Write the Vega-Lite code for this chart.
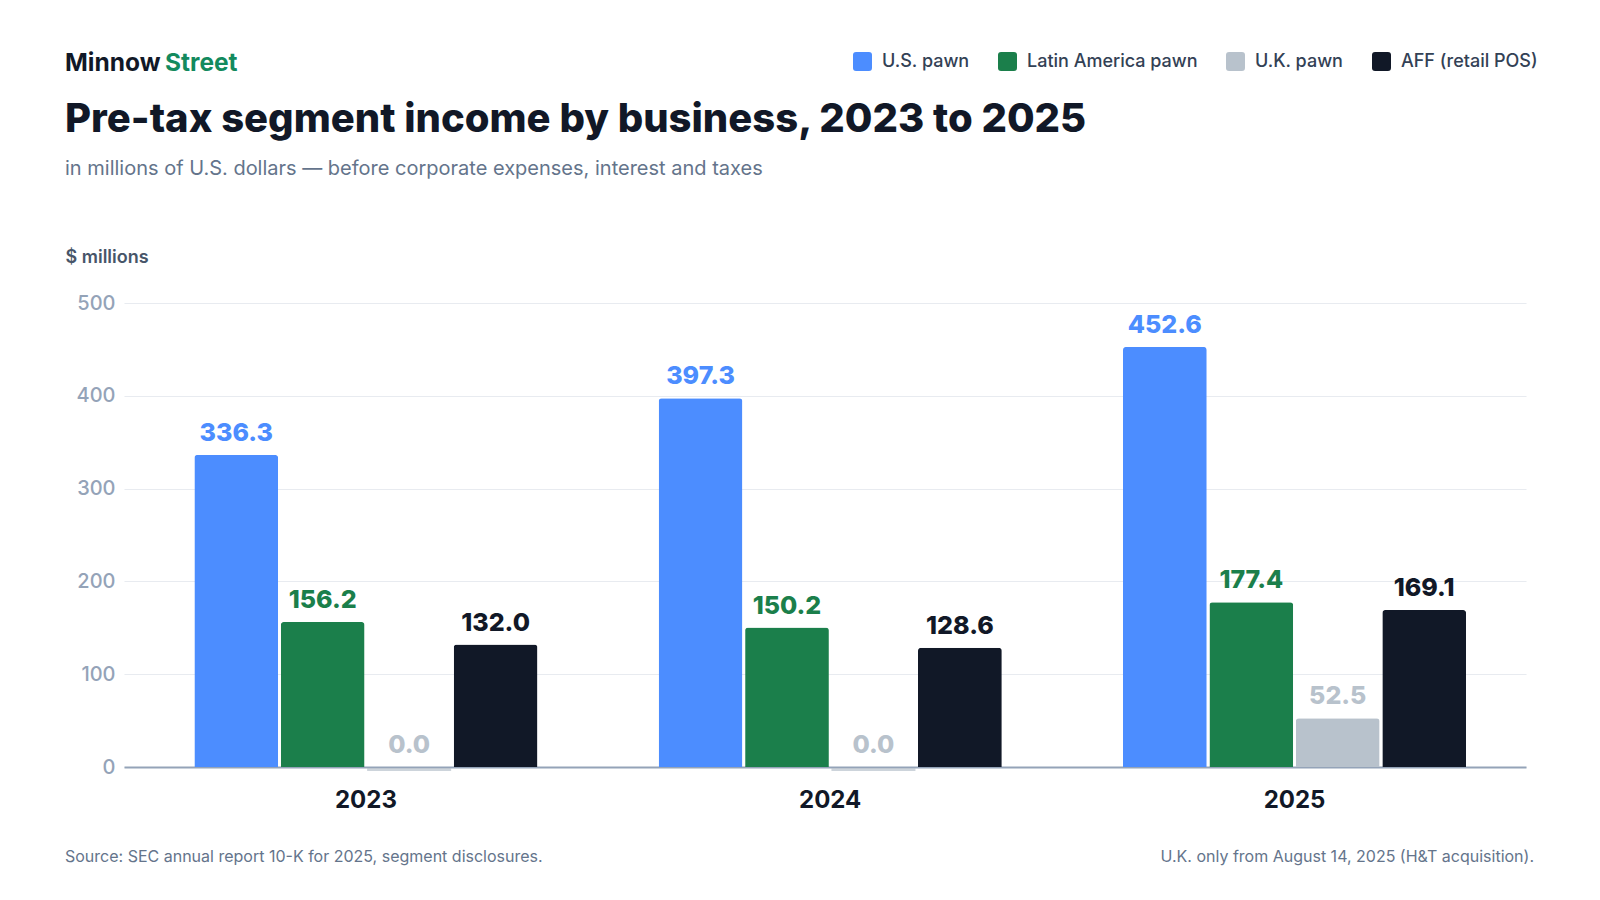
{
  "$schema": "https://vega.github.io/schema/vega-lite/v6.json",
  "autosize": "none",
  "width": 1402,
  "height": 464,
  "padding": {"left": 124, "top": 303, "right": 74, "bottom": 133},
  "background": "#ffffff",
  "config": {
    "font": "Inter",
    "view": {"stroke": null}
  },
  "data": {
    "values": [
      {"year": "2023", "segment": "U.S. pawn", "income": 336.3},
      {"year": "2023", "segment": "Latin America pawn", "income": 156.2},
      {"year": "2023", "segment": "U.K. pawn", "income": 0.0},
      {"year": "2023", "segment": "AFF (retail POS)", "income": 132.0},
      {"year": "2024", "segment": "U.S. pawn", "income": 397.3},
      {"year": "2024", "segment": "Latin America pawn", "income": 150.2},
      {"year": "2024", "segment": "U.K. pawn", "income": 0.0},
      {"year": "2024", "segment": "AFF (retail POS)", "income": 128.6},
      {"year": "2025", "segment": "U.S. pawn", "income": 452.6},
      {"year": "2025", "segment": "Latin America pawn", "income": 177.4},
      {"year": "2025", "segment": "U.K. pawn", "income": 52.5},
      {"year": "2025", "segment": "AFF (retail POS)", "income": 169.1}
    ]
  },
  "encoding": {
    "x": {
      "field": "year",
      "type": "nominal",
      "scale": {"paddingInner": 0.261, "paddingOuter": 0.1403, "align": 0.54},
      "axis": {
        "title": null,
        "labelAngle": 0,
        "labelFont": "Inter",
        "labelFontSize": 24,
        "labelFontWeight": 700,
        "labelColor": "#111827",
        "labelPadding": 21,
        "ticks": false,
        "domainColor": "#94A3B8",
        "domainWidth": 2
      }
    },
    "xOffset": {
      "field": "segment",
      "type": "nominal",
      "sort": ["U.S. pawn", "Latin America pawn", "U.K. pawn", "AFF (retail POS)"],
      "scale": {"paddingInner": 0.031, "paddingOuter": 0}
    },
    "y": {
      "field": "income",
      "type": "quantitative",
      "scale": {"domain": [0, 500]},
      "axis": {
        "title": "$ millions",
        "titleAngle": 0,
        "titleAlign": "left",
        "titleBaseline": "middle",
        "titleX": -59,
        "titleY": -46,
        "titleFont": "Inter",
        "titleFontSize": 18,
        "titleFontWeight": 600,
        "titleColor": "#475569",
        "values": [0, 100, 200, 300, 400, 500],
        "labelFont": "Inter",
        "labelFontSize": 20,
        "labelFontWeight": 500,
        "labelColor": "#94A3B8",
        "labelPadding": 9,
        "ticks": false,
        "domain": false,
        "gridColor": "#E8EBF0",
        "gridWidth": 1.2
      }
    },
    "color": {
      "field": "segment",
      "type": "nominal",
      "scale": {
        "domain": ["U.S. pawn", "Latin America pawn", "U.K. pawn", "AFF (retail POS)"],
        "range": ["#4C8DFF", "#1B7F4B", "#B8C2CC", "#111827"]
      },
      "legend": {
        "title": null,
        "orient": "none",
        "direction": "horizontal",
        "legendX": 729,
        "legendY": -251,
        "symbolType": "M-1,-0.68 Q-1,-1 -0.68,-1 L0.68,-1 Q1,-1 1,-0.68 L1,0.68 Q1,1 0.68,1 L-0.68,1 Q-1,1 -1,0.68 Z",
        "symbolSize": 361,
        "symbolStrokeWidth": 0,
        "symbolOpacity": 1,
        "labelFont": "Inter",
        "labelFontSize": 18,
        "labelFontWeight": 500,
        "labelColor": "#334155",
        "labelOffset": 10,
        "labelLimit": 300,
        "columnPadding": 28
      }
    }
  },
  "layer": [
    {
      "mark": {"type": "bar", "cornerRadiusTopLeft": 3, "cornerRadiusTopRight": 3}
    },
    {
      "transform": [{"filter": "datum.income == 0"}],
      "mark": {"type": "tick", "orient": "horizontal", "thickness": 3, "size": 84, "yOffset": 2.5, "color": "#B8C2CC"}
    },
    {
      "mark": {"type": "text", "baseline": "alphabetic", "dy": -14, "fontSize": 25, "fontWeight": 800, "font": "Inter"},
      "encoding": {
        "text": {"field": "income", "type": "quantitative", "format": ".1f"}
      }
    },
    {
      "data": {"values": [{"t": "Minnow"}]},
      "mark": {"type": "text", "align": "left", "baseline": "alphabetic", "fontSize": 24.5, "fontWeight": 700, "font": "Inter", "color": "#111827", "x": -59, "y": -232},
      "encoding": {"text": {"field": "t"}, "x": null, "y": null, "xOffset": null, "color": null}
    },
    {
      "data": {"values": [{"t": "Street"}]},
      "mark": {"type": "text", "align": "left", "baseline": "alphabetic", "fontSize": 24.5, "fontWeight": 700, "font": "Inter", "color": "#138A5E", "x": 41, "y": -232},
      "encoding": {"text": {"field": "t"}, "x": null, "y": null, "xOffset": null, "color": null}
    },
    {
      "data": {"values": [{"t": "Pre-tax segment income by business, 2023 to 2025"}]},
      "mark": {"type": "text", "align": "left", "baseline": "alphabetic", "fontSize": 40, "fontWeight": 800, "font": "Inter", "color": "#111827", "x": -59, "y": -171},
      "encoding": {"text": {"field": "t"}, "x": null, "y": null, "xOffset": null, "color": null}
    },
    {
      "data": {"values": [{"t": "in millions of U.S. dollars — before corporate expenses, interest and taxes"}]},
      "mark": {"type": "text", "align": "left", "baseline": "alphabetic", "fontSize": 20, "font": "Inter", "color": "#64748B", "x": -59, "y": -128},
      "encoding": {"text": {"field": "t"}, "x": null, "y": null, "xOffset": null, "color": null}
    },
    {
      "data": {"values": [{"t": "Source: SEC annual report 10-K for 2025, segment disclosures."}]},
      "mark": {"type": "text", "align": "left", "baseline": "middle", "fontSize": 16, "font": "Inter", "color": "#64748B", "x": -59, "y": 554},
      "encoding": {"text": {"field": "t"}, "x": null, "y": null, "xOffset": null, "color": null}
    },
    {
      "data": {"values": [{"t": "U.K. only from August 14, 2025 (H&T acquisition)."}]},
      "mark": {"type": "text", "align": "right", "baseline": "middle", "fontSize": 16, "font": "Inter", "color": "#64748B", "x": 1410, "y": 554},
      "encoding": {"text": {"field": "t"}, "x": null, "y": null, "xOffset": null, "color": null}
    }
  ]
}
